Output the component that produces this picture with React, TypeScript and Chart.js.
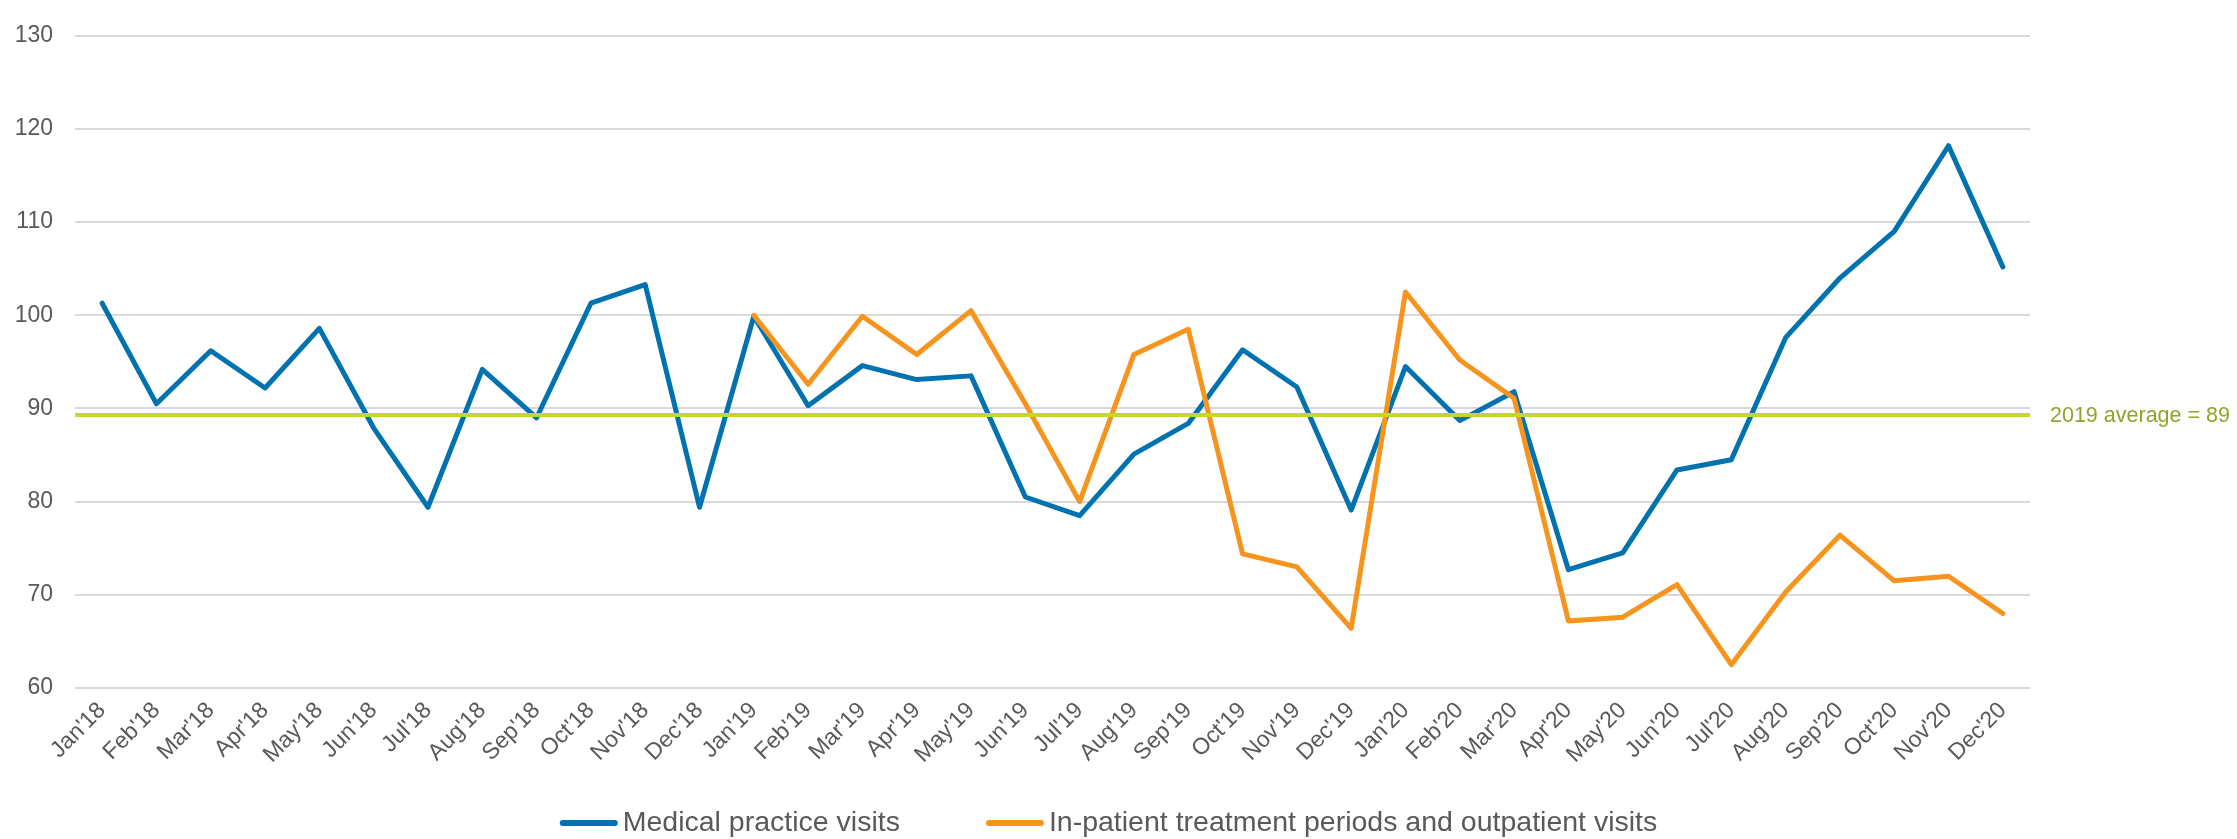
import React, { useEffect, useRef } from "react";
import { Chart, registerables } from "chart.js";

Chart.register(...registerables);

const months = [
  "Jan'18", "Feb'18", "Mar'18", "Apr'18", "May'18", "Jun'18", "Jul'18", "Aug'18", "Sep'18", "Oct'18", "Nov'18", "Dec'18",
  "Jan'19", "Feb'19", "Mar'19", "Apr'19", "May'19", "Jun'19", "Jul'19", "Aug'19", "Sep'19", "Oct'19", "Nov'19", "Dec'19",
  "Jan'20", "Feb'20", "Mar'20", "Apr'20", "May'20", "Jun'20", "Jul'20", "Aug'20", "Sep'20", "Oct'20", "Nov'20", "Dec'20",
];

const medicalPracticeVisits = [
  101.3, 90.5, 96.2, 92.2, 98.6, 87.9, 79.4, 94.2, 89.0, 101.3, 103.3, 79.4,
  99.9, 90.3, 94.6, 93.1, 93.5, 80.5, 78.5, 85.1, 88.4, 96.3, 92.3, 79.1,
  94.5, 88.7, 91.8, 72.7, 74.5, 83.4, 84.5, 97.6, 104.0, 109.0, 118.2, 105.2,
];

const inpatientOutpatient: (number | null)[] = [
  null, null, null, null, null, null, null, null, null, null, null, null,
  100.0, 92.6, 99.9, 95.8, 100.5, 90.5, 80.0, 95.8, 98.5, 74.4, 73.0, 66.4,
  102.5, 95.2, 91.1, 67.2, 67.6, 71.1, 62.5, 70.3, 76.4, 71.5, 72.0, 68.0,
];

const seriesNames = ["Medical practice visits", "In-patient treatment periods and outpatient visits"];
const seriesColors = ["#0072B0", "#F7941E"];

const average2019 = 89.3;
const averageLabel = "2019 average = 89";
const averageColor = "#C3D730";
const averageTextColor = "#8FA52A";

const yMin = 60;
const yMax = 130;
const yStep = 10;

const TEXT = "#595959";
const FONT = "'Liberation Sans', Arial, sans-serif";

const averagePlugin = {
  id: "averageLine",
  afterDatasetsDraw(chart: any) {
    const { ctx, chartArea, scales } = chart;
    const y = scales.y.getPixelForValue(average2019);
    ctx.save();
    ctx.strokeStyle = averageColor;
    ctx.lineWidth = 4;
    ctx.beginPath();
    ctx.moveTo(chartArea.left, y);
    ctx.lineTo(chartArea.right, y);
    ctx.stroke();
    ctx.fillStyle = averageTextColor;
    ctx.font = `21.5px ${FONT}`;
    ctx.textAlign = "left";
    ctx.textBaseline = "middle";
    ctx.fillText(averageLabel, chartArea.right + 20, y + 1);
    ctx.restore();
  },
};

const legendPlugin = {
  id: "customLegend",
  afterDraw(chart: any) {
    const { ctx, width } = chart;
    ctx.save();
    ctx.font = `28.5px ${FONT}`;
    const sampleW = 58;
    const gap = 5;
    const itemGap = 86;
    const widths = seriesNames.map((n) => ctx.measureText(n).width);
    const total = widths.reduce((a, w) => a + sampleW + gap + w, 0) + itemGap * (seriesNames.length - 1);
    let x = width / 2 - 10 - total / 2;
    const yMid = 823;
    seriesNames.forEach((name, i) => {
      ctx.strokeStyle = seriesColors[i];
      ctx.lineWidth = 6;
      ctx.lineCap = "round";
      ctx.beginPath();
      ctx.moveTo(x + 3, yMid);
      ctx.lineTo(x + sampleW - 3, yMid);
      ctx.stroke();
      ctx.fillStyle = TEXT;
      ctx.textAlign = "left";
      ctx.textBaseline = "middle";
      ctx.fillText(name, x + sampleW + gap, yMid);
      x += sampleW + gap + widths[i] + itemGap;
    });
    ctx.restore();
  },
};

export default function App() {
  const canvasRef = useRef<HTMLCanvasElement | null>(null);

  useEffect(() => {
    if (!canvasRef.current) return;
    const chart = new Chart(canvasRef.current, {
      type: "line",
      data: {
        labels: months,
        datasets: [
          {
            label: seriesNames[0],
            data: medicalPracticeVisits,
            borderColor: seriesColors[0],
            backgroundColor: seriesColors[0],
            borderWidth: 5,
            pointRadius: 0,
            tension: 0,
            borderJoinStyle: "round",
            borderCapStyle: "round",
            order: 2,
          },
          {
            label: seriesNames[1],
            data: inpatientOutpatient,
            borderColor: seriesColors[1],
            backgroundColor: seriesColors[1],
            borderWidth: 5,
            pointRadius: 0,
            tension: 0,
            borderJoinStyle: "round",
            borderCapStyle: "round",
            spanGaps: false,
            order: 1,
          },
        ],
      },
      options: {
        responsive: false,
        animation: false,
        devicePixelRatio: 1,
        layout: { padding: { top: 24, right: 207, bottom: 51, left: 0 } },
        plugins: {
          legend: { display: false },
          tooltip: { enabled: false },
        },
        scales: {
          x: {
            type: "category",
            offset: true,
            grid: { display: false, drawTicks: false },
            border: { display: false },
            ticks: {
              autoSkip: false,
              minRotation: 45,
              maxRotation: 45,
              padding: 9,
              color: TEXT,
              font: { family: FONT, size: 23 },
            },
            afterFit(scale: any) {
              scale.height = 100;
            },
          },
          y: {
            min: yMin,
            max: yMax,
            grid: { color: "#D9D9D9", lineWidth: 2, drawTicks: false },
            border: { display: false },
            ticks: {
              stepSize: yStep,
              padding: 22,
              color: TEXT,
              font: { family: FONT, size: 23 },
            },
            afterFit(scale: any) {
              scale.width = 75;
            },
          },
        },
      },
      plugins: [averagePlugin, legendPlugin],
    });
    return () => chart.destroy();
  }, []);

  return (
    <div style={{ position: "fixed", left: 0, top: 0, width: 2237, height: 839, background: "#fff" }}>
      <canvas ref={canvasRef} width={2237} height={839} style={{ width: 2237, height: 839, display: "block" }} />
    </div>
  );
}
